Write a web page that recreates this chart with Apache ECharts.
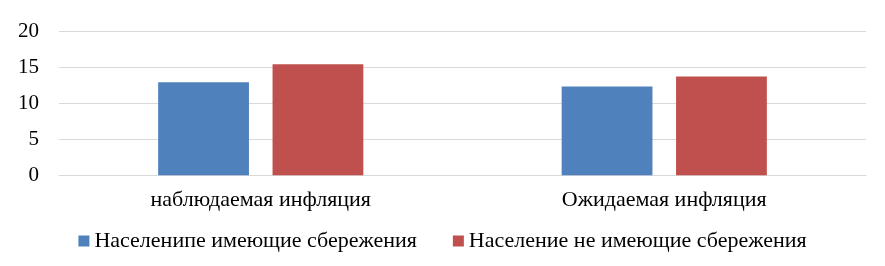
<!DOCTYPE html>
<html><head><meta charset="utf-8">
<script src="https://cdn.jsdelivr.net/npm/echarts@6/dist/echarts.min.js"></script>
<style>html,body{margin:0;padding:0;background:#fff}#c{width:885px;height:266px}</style>
</head><body><div id="c"></div>
<script>
var categories = ['наблюдаемая инфляция', 'Ожидаемая инфляция'];
var seriesNames = ['Населенипе имеющие сбережения', 'Население не имеющие сбережения'];
var withSavings = [12.9, 12.3];
var withoutSavings = [15.4, 13.7];
var yTicks = [0, 5, 10, 15, 20];

var font = 'Liberation Serif';
var chart = echarts.init(document.getElementById('c'));
chart.setOption({
  animation: false,
  textStyle: {fontFamily: font},
  grid: {left: 59, right: 19, top: 31, bottom: 90.7, containLabel: false},
  legend: {
    bottom: 9, left: 'center',
    itemWidth: 11, itemHeight: 11, itemGap: 36,
    textStyle: {fontFamily: font, fontSize: 22, color: '#000'},
    data: seriesNames.map(function(n){return {name: n, icon: 'rect'};})
  },
  xAxis: {
    type: 'category', data: categories,
    axisLine: {show: true, lineStyle: {color: '#d9d9d9', width: 1}},
    axisTick: {show: false},
    axisLabel: {fontFamily: font, fontSize: 22, color: '#000', margin: 14}
  },
  yAxis: {
    type: 'value', min: yTicks[0], max: yTicks[yTicks.length - 1], interval: 5,
    axisLine: {show: false}, axisTick: {show: false},
    splitLine: {lineStyle: {color: '#d9d9d9', width: 1}},
    axisLabel: {fontFamily: font, fontSize: 21, color: '#000', margin: 20}
  },
  series: [
    {name: seriesNames[0], type: 'bar', data: withSavings, barWidth: '22.5%', barGap: '26%',
     itemStyle: {color: '#4f81bd'}},
    {name: seriesNames[1], type: 'bar', data: withoutSavings, barWidth: '22.5%', barGap: '26%',
     itemStyle: {color: '#c0504d'}}
  ]
});
</script></body></html>
